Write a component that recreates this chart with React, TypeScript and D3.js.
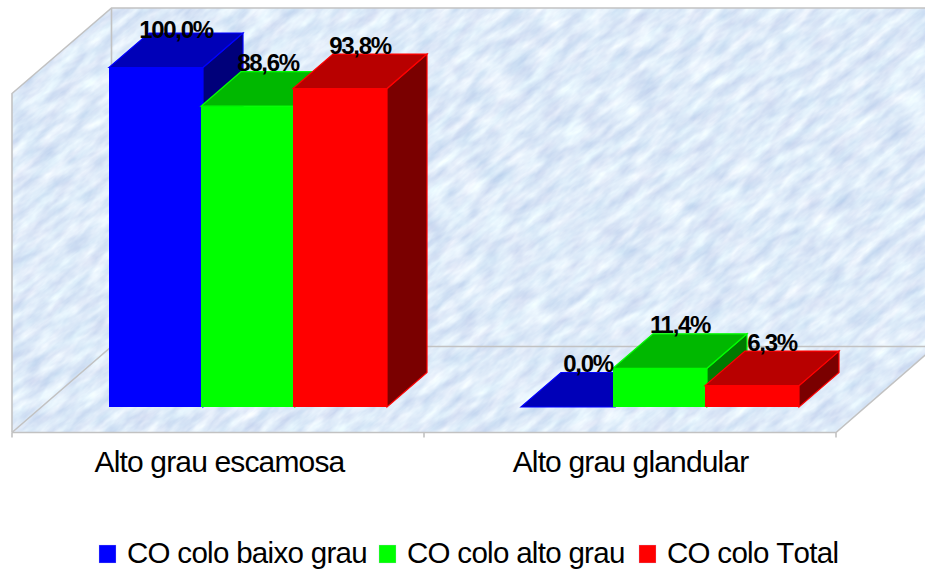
import React from "react";
import * as d3 from "d3";

const categories = ["Alto grau escamosa", "Alto grau glandular"];
const seriesNames = ["CO colo baixo grau", "CO colo alto grau", "CO colo Total"];
const baixoGrau = [100.0, 0.0];
const altoGrau = [88.6, 11.4];
const total = [93.8, 6.3];
const seriesValues = [baixoGrau, altoGrau, total];
const frontColors = ["#0000ff", "#00ff00", "#ff0000"];
const topColors = ["#0000b8", "#00b800", "#b80000"];
const sideColors = ["#00007a", "#007a00", "#7a0000"];
const legendSwatchX = [99, 379, 639];
const legendTextX = [127, 407, 667];

const WIDTH = 925;
const HEIGHT = 569;
const DEPTH_X = 40;
const DEPTH_Y = 34.5;
const FONT = "'Liberation Sans', Arial, sans-serif";
const GRID = "#c2c2c2";

const fmt = (v: number) => `${v.toFixed(1).replace(".", ",")}%`;
const pts = (p: number[][]) => p.map((q) => q.join(",")).join(" ");

export default function App() {
  // Horizontal axis of the front floor edge and the value scale of the bars.
  const x0 = d3.scaleBand<string>().domain(categories).range([12, 836]);
  const x1 = d3.scaleBand<string>().domain(seriesNames).range([97, 373]);
  const y = d3.scaleLinear().domain([0, 100]).range([407, 67.5]);
  const barW = x1.bandwidth() + 2;

  const floorY = 432.5;
  const wallX = 111.5;
  const wallTop = 8;
  const wallBottom = 346.5;
  const ticks = [12, ...categories.map((c) => (x0(c) as number) + x0.bandwidth())];

  const wallsPath = [
    [12, 93.5],
    [wallX, wallTop],
    [WIDTH + 12, wallTop],
    [WIDTH + 12, wallBottom],
    [836 + 99, wallBottom],
    [836, floorY],
    [12, floorY],
  ];

  return (
    <svg
      width={WIDTH}
      height={HEIGHT}
      viewBox={`0 0 ${WIDTH} ${HEIGHT}`}
      style={{ position: "absolute", left: 0, top: 0, background: "#fff" }}
    >
      <defs>
        <filter id="paper" x="0" y="0" width="100%" height="100%" colorInterpolationFilters="sRGB">
          <feTurbulence type="fractalNoise" baseFrequency="0.035 0.1" numOctaves={4} seed={11} />
          <feColorMatrix
            type="matrix"
            values="0.26 0.06 0 0 0.71  0.22 0 0 0 0.81  0.1 0 0 0 0.925  0 0 0 0 1"
          />
        </filter>
        <clipPath id="walls">
          <polygon points={pts(wallsPath)} />
        </clipPath>
      </defs>

      {/* Textured back wall, side wall and floor */}
      <g clipPath="url(#walls)">
        <rect
          x={-500}
          y={-500}
          width={2000}
          height={1800}
          filter="url(#paper)"
          transform={`rotate(-38 ${WIDTH / 2} ${HEIGHT / 2})`}
        />
      </g>
      <g fill="none" stroke={GRID} strokeWidth={1.6}>
        <polyline points={pts([[12, floorY], [12, 93.5], [wallX, wallTop], [WIDTH, wallTop]])} />
        <line x1={wallX} y1={wallTop} x2={wallX} y2={wallBottom} />
        <polyline points={pts([[12, floorY], [wallX, wallBottom], [WIDTH, wallBottom]])} />
        <polyline points={pts([[12, floorY], [836, floorY], [935, wallBottom]])} />
        {ticks.map((t) => (
          <line key={t} x1={t} y1={floorY} x2={t} y2={floorY + 5} />
        ))}
      </g>

      {/* Extruded bars, series by series */}
      {categories.map((cat, ci) => (
        <g key={cat}>
          {seriesNames.map((name, si) => {
            const left = (x0(cat) as number) + (x1(name) as number);
            const right = left + barW;
            const top = y(seriesValues[si][ci]);
            const base = y(0);
            return (
              <g key={name}>
                <polygon
                  points={pts([
                    [right, top],
                    [right + DEPTH_X, top - DEPTH_Y],
                    [right + DEPTH_X, base - DEPTH_Y],
                    [right, base],
                  ])}
                  fill={sideColors[si]}
                  stroke={frontColors[si]}
                  strokeWidth={1.2}
                />
                <polygon
                  points={pts([
                    [left, top],
                    [left + DEPTH_X, top - DEPTH_Y],
                    [right + DEPTH_X, top - DEPTH_Y],
                    [right, top],
                  ])}
                  fill={topColors[si]}
                  stroke={frontColors[si]}
                  strokeWidth={1.2}
                />
                <rect x={left} y={top} width={barW} height={base - top} fill={frontColors[si]} />
              </g>
            );
          })}
        </g>
      ))}

      {/* Value labels above each bar */}
      <g fontFamily={FONT} fontWeight="bold" fontSize={24} letterSpacing={-1.3} textAnchor="middle" fill="#000">
        {categories.map((cat, ci) =>
          seriesNames.map((name, si) => {
            const v = seriesValues[si][ci];
            const cx = (x0(cat) as number) + (x1(name) as number) + x1.bandwidth() / 2 + 21;
            return (
              <text key={name} x={cx} y={Math.max(y(v) - DEPTH_Y - 0.5, 37.5)}>
                {fmt(v)}
              </text>
            );
          })
        )}
      </g>

      {/* Category labels */}
      <g fontFamily={FONT} fontSize={30} letterSpacing={-0.85} textAnchor="middle" fill="#000" style={{ fontKerning: "none" }}>
        <text x={219.5} y={472}>{categories[0]}</text>
        <text x={630.5} y={472}>{categories[1]}</text>
      </g>

      {/* Legend */}
      <g fontFamily={FONT} fontSize={29.5} letterSpacing={-0.7} fill="#000" style={{ fontKerning: "none" }}>
        {seriesNames.map((name, si) => (
          <g key={name}>
            <rect x={legendSwatchX[si]} y={545} width={17} height={18} fill={frontColors[si]} stroke="#c9c9f0" strokeOpacity={0.5} strokeWidth={0.6} />
            <text x={legendTextX[si]} y={562.5}>{name}</text>
          </g>
        ))}
      </g>
    </svg>
  );
}
